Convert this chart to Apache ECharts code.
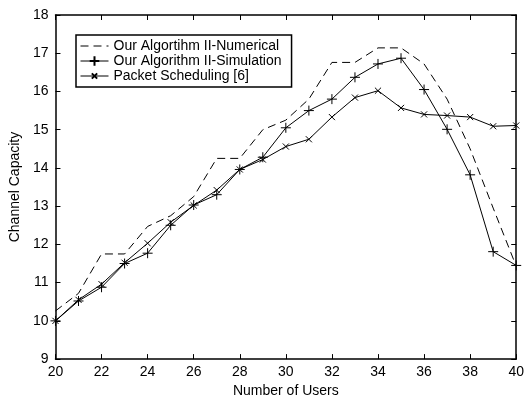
<!DOCTYPE html>
<html>
<head>
<meta charset="utf-8">
<script src="https://cdn.jsdelivr.net/npm/echarts@6/dist/echarts.min.js"></script>
<style>
html,body{margin:0;padding:0;background:#fff;}
#chart{width:527px;height:403px;}
</style>
</head>
<body>
<div id="chart"></div>
<script>
var users = [20,21,22,23,24,25,26,27,28,29,30,31,32,33,34,35,36,37,38,39,40];
var numerical = [10.26,10.72,11.75,11.75,12.47,12.75,13.25,14.25,14.25,15.0,15.25,15.8,16.76,16.76,17.14,17.14,16.72,15.8,14.5,12.95,11.43];
var simulation = [10.0,10.52,10.88,11.5,11.77,12.5,13.03,13.3,13.96,14.28,15.05,15.5,15.8,16.37,16.72,16.87,16.05,15.01,13.82,11.81,11.45];
var packet = [10.0,10.55,10.96,11.52,12.03,12.58,13.02,13.42,13.96,14.22,14.56,14.75,15.33,15.84,16.02,15.57,15.4,15.37,15.33,15.09,15.11];
var seriesNames = ['Our Algortihm II-Numerical','Our Algorithm II-Simulation','Packet Scheduling [6]'];
var xName = 'Number of Users';
var yName = 'Channel Capacity';

function pairs(vals){ return users.map(function(u,i){ return [u, vals[i]]; }); }

var font = 'Liberation Sans, Arial, Helvetica, sans-serif';
var plusPath = 'path://M0,5L10,5M5,0L5,10';
var crossPath = 'path://M-4,-4M14,14M0,0L10,10M0,10L10,0';

var chart = echarts.init(document.getElementById('chart'), null, {renderer:'canvas'});
var axisCommon = {
  axisLine:{show:true,lineStyle:{color:'#000',width:1.5}},
  axisTick:{show:true,inside:true,length:5,lineStyle:{color:'#000',width:1}},
  splitLine:{show:false}
};
chart.setOption({
  animation:false,
  backgroundColor:'#fff',
  grid:{left:50,right:10,top:15,bottom:36,containLabel:false},
  legend:{
    orient:'vertical',
    left:76, top:35,
    padding:[4,10,4,4],
    itemGap:1,
    itemWidth:28, itemHeight:12,
    borderColor:'#000', borderWidth:1.5,
    backgroundColor:'#fff',
    lineStyle:{width:1},
    textStyle:{fontFamily:font,fontSize:14,color:'#000'},
    data:[
      {name:seriesNames[0],itemStyle:{opacity:0}},
      {name:seriesNames[1]},
      {name:seriesNames[2]}
    ]
  },
  xAxis:[
    Object.assign({type:'value',min:20,max:40,interval:2,position:'bottom',
      name:xName,nameLocation:'middle',nameGap:21,
      nameTextStyle:{fontFamily:font,fontSize:14,color:'#000'},
      axisLabel:{fontFamily:font,fontSize:14,color:'#000',margin:6}}, axisCommon),
    Object.assign({type:'value',min:20,max:40,interval:2,position:'top',
      axisLabel:{show:false}}, axisCommon)
  ],
  yAxis:[
    Object.assign({type:'value',min:9,max:18,interval:1,position:'left',
      name:yName,nameLocation:'middle',nameGap:22,
      nameTextStyle:{fontFamily:font,fontSize:14,color:'#000'},
      axisLabel:{fontFamily:font,fontSize:14,color:'#000',margin:7}}, axisCommon),
    Object.assign({type:'value',min:9,max:18,interval:1,position:'right',
      axisLabel:{show:false}}, axisCommon)
  ],
  series:[
    {name:seriesNames[0],type:'line',data:pairs(numerical),showSymbol:false,symbol:'none',
     lineStyle:{color:'#000',width:1,type:[8,5]},itemStyle:{color:'#000'}},
    {name:seriesNames[1],type:'line',data:pairs(simulation),symbol:plusPath,symbolSize:10,
     lineStyle:{color:'#000',width:1},itemStyle:{color:'rgba(0,0,0,0)',borderColor:'#000',borderWidth:1}},
    {name:seriesNames[2],type:'line',data:pairs(packet),symbol:crossPath,symbolSize:11,
     lineStyle:{color:'#000',width:1},itemStyle:{color:'rgba(0,0,0,0)',borderColor:'#000',borderWidth:1}}
  ]
});
</script>
</body>
</html>
